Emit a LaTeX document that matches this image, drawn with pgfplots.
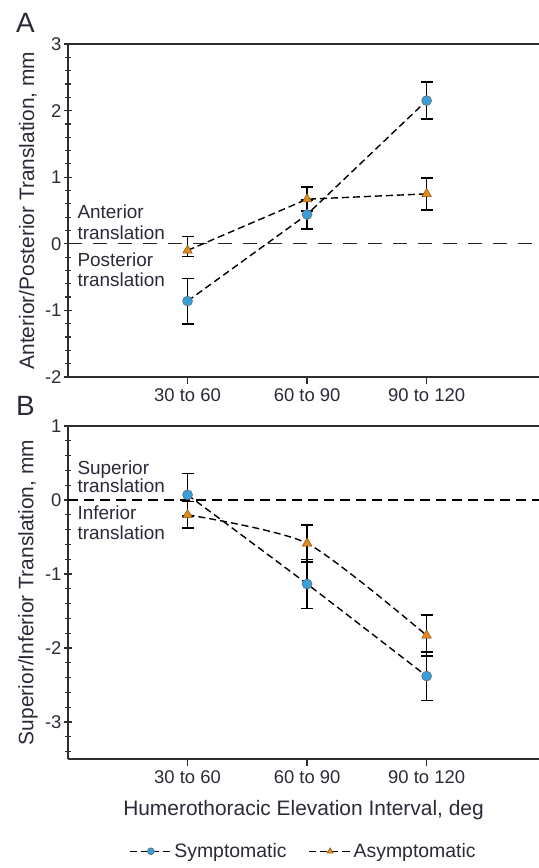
\documentclass[border=0pt]{standalone}
\usepackage{fontspec}
\setmainfont{Liberation Sans}
\usepackage{pgfplots}
\pgfplotsset{compat=1.18}
\definecolor{symc}{HTML}{3A9FD8}
\definecolor{asyc}{HTML}{E08A1E}
\definecolor{txt}{HTML}{2A2A38}
\definecolor{axc}{HTML}{2E2E2E}
\tikzset{annot/.style={anchor=base west, inner sep=0pt, font=\fontsize{19}{20}\selectfont, text=txt}}
\pgfplotsset{
  panel/.style={
    scale only axis, width=471bp, height=333bp,
    xmin=0, xmax=3.94,
    axis x line*=bottom, axis y line*=left,
    axis line style={axc, line width=1.3bp},
    xtick={1,2,3}, xticklabels={30 to 60,60 to 90,90 to 120},
    tick align=center,
    major tick length=8bp, minor tick length=6bp,
    every tick/.style={axc, line width=1.2bp},
    every minor tick/.style={axc, line width=1.2bp},
    x tick style={yshift=-3bp},
    /pgf/number format/assume math mode=true,
    tick label style={font=\fontsize{18.5}{20}\selectfont, text=txt},
    xticklabel style={yshift=-4bp},
    yticklabel style={xshift=1bp},
    ylabel style={font=\fontsize{21}{24}\selectfont, text=txt, at={(axis description cs:-0.085,0.5)}, anchor=center},
    clip=false,
  },
  conn/.style={black, line width=1.4bp, dash pattern=on 7bp off 4bp},
  ebar/.style={
    error bars/y dir=both, error bars/y explicit,
    error bars/error bar style={black, solid, line width=1.7bp},
    error bars/error mark options={rotate=90, mark size=6bp, black, solid, line width=1.6bp}},
  symp/.style={conn, mark=*, mark size=5bp, mark options={solid, fill=symc, draw=black!60, line width=0.5bp}, ebar},
  asym/.style={conn, mark=triangle*, mark size=5.5bp, mark options={solid, fill=asyc, draw=asyc!60!black, line width=0.5bp}, ebar},
}
\begin{document}
\begin{tikzpicture}
\useasboundingbox (0,0) rectangle (539bp,-868bp);
\node[anchor=base west, inner sep=0pt, font=\fontsize{28}{30}\selectfont, text=txt] at (16bp,-32bp) {A};
\node[anchor=base west, inner sep=0pt, font=\fontsize{28}{30}\selectfont, text=txt] at (16bp,-415bp) {B};
% Panel A
\begin{axis}[panel, at={(68bp,-377bp)}, anchor=south west,
  ymin=-2, ymax=3, ytick={-2,-1,0,1,2,3},
  minor ytick={-1.8,-1.6,-1.4,-1.2,-0.8,-0.6,-0.4,-0.2,0.2,0.4,0.6,0.8,1.2,1.4,1.6,1.8,2.2,2.4,2.6,2.8},
  ylabel={Anterior/Posterior Translation, mm}]
\draw[axc, line width=2bp] (rel axis cs:0,1) -- (rel axis cs:1,1);
\addplot[black!85, line width=1.1bp, dash pattern=on 14bp off 11bp] coordinates {(0,0) (3.94,0)};
\node[annot] at (axis cs:0.078,0.374) {Anterior};
\node[annot] at (axis cs:0.078,0.07) {translation};
\node[annot] at (axis cs:0.078,-0.348) {Posterior};
\node[annot] at (axis cs:0.078,-0.647) {translation};
\addplot[asym] coordinates {
  (1,-0.10) += (0,0.21) -= (0,0.09)
  (2,0.67) +- (0,0.18)
  (3,0.75) +- (0,0.24)
};
\addplot[symp] coordinates {
  (1,-0.86) +- (0,0.34)
  (2,0.44) +- (0,0.22)
  (3,2.15) +- (0,0.28)
};
\end{axis}
% Panel B
\begin{axis}[panel, at={(68bp,-759bp)}, anchor=south west,
  ymin=-3.5, ymax=1, ytick={-3,-2,-1,0,1},
  minor ytick={-3.4,-3.2,-2.8,-2.6,-2.4,-2.2,-1.8,-1.6,-1.4,-1.2,-0.8,-0.6,-0.4,-0.2,0.2,0.4,0.6,0.8},
  ylabel={Superior/Inferior Translation, mm},
  xlabel={Humerothoracic Elevation Interval, deg},
  xlabel style={font=\fontsize{21}{24}\selectfont, text=txt, at={(axis description cs:0.5,-0.152)}, anchor=center},
  legend style={at={(axis description cs:0.5,-0.277)}, anchor=center, draw=none, fill=none,
    font=\fontsize{19.5}{22}\selectfont, text=txt, legend columns=2,
    /tikz/every even column/.append style={column sep=20bp}},
  legend image code/.code={\draw[#1, mark repeat=2, mark phase=2, mark size=3.5bp, line width=1bp] plot coordinates {(0bp,0bp) (21bp,0bp) (42bp,0bp)};},
]
\draw[axc, line width=1.3bp] (rel axis cs:0,1) -- (rel axis cs:1,1);
\addplot[black, line width=1.7bp, dash pattern=on 10bp off 6bp, forget plot] coordinates {(0,0) (3.94,0)};
\node[annot] at (axis cs:0.078,0.351) {Superior};
\node[annot] at (axis cs:0.078,0.104) {translation};
\node[annot] at (axis cs:0.078,-0.27) {Inferior};
\node[annot] at (axis cs:0.078,-0.536) {translation};
\addplot[symp, smooth, tension=0.4] coordinates {
  (1,0.07) +- (0,0.29)
  (2,-1.135) +- (0,0.33)
  (3,-2.38) +- (0,0.33)
};
\addlegendentry{Symptomatic}
\addplot[asym, smooth, tension=0.4] coordinates {
  (1,-0.20) +- (0,0.18)
  (2,-0.585) +- (0,0.25)
  (3,-1.83) +- (0,0.28)
};
\addlegendentry{Asymptomatic}
\end{axis}
\end{tikzpicture}
\end{document}
